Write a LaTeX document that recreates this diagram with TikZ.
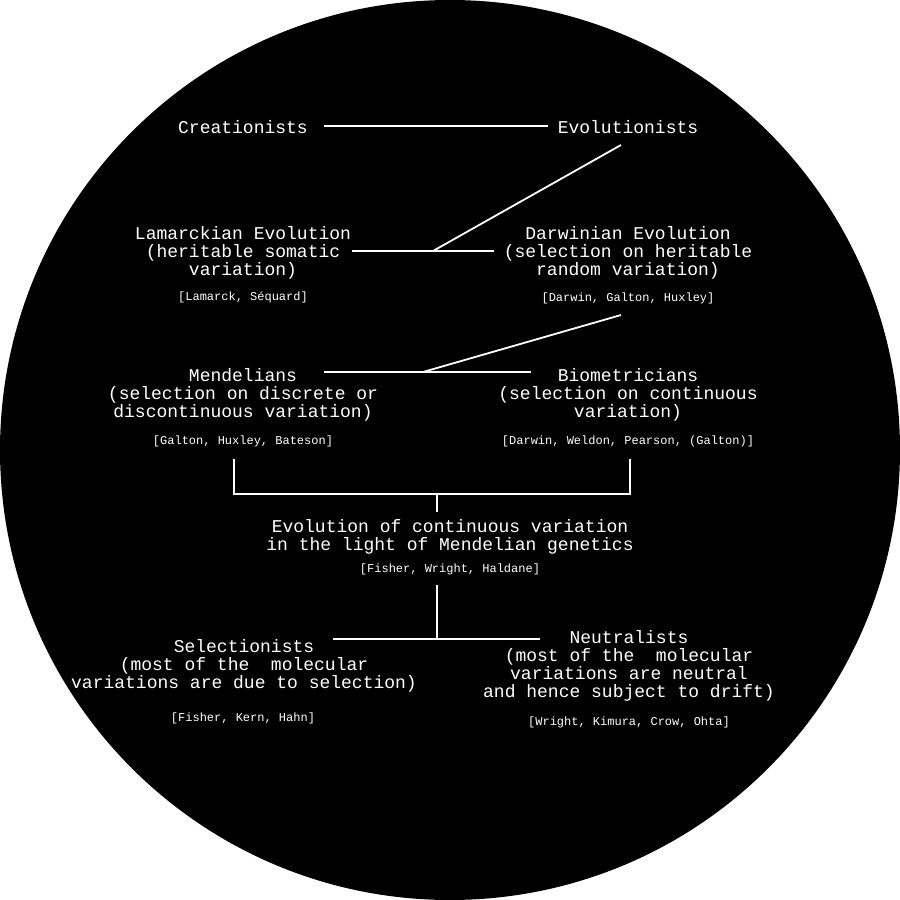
\documentclass[tikz,border=0pt]{standalone}
\usepackage{fontspec}
\newfontfamily\lmono{Liberation Mono}
\newcommand\blk[1]{\vtop{\lineskiplimit=-100pt \lineskip=0pt \halign{\hfil##\hfil\cr#1\crcr}}}
\begin{document}
\begin{tikzpicture}[x=1pt,y=-1pt,
  big/.style={font=\lmono\fontsize{18}{18}\selectfont, text=white, inner sep=0pt, anchor=base},
  small/.style={font=\lmono\fontsize{12}{12}\selectfont, text=white, inner sep=0pt, anchor=base},
  link/.style={draw=white, line width=1.8pt}]
\useasboundingbox (0,0) rectangle (900,900);
\fill[white] (0,0) rectangle (900,900);
\fill[black] (450,450) circle (450);

\node[big] (creat) at (243,133) {Creationists};
\node[big] (evol) at (628,133) {Evolutionists};
\node[big] (lam) at (243,239) {\blk{Lamarckian Evolution\cr (heritable somatic\cr variation)}};
\node[small] (lamref) at (243,300) {[Lamarck, Séquard]};
\node[big] (dar) at (628,239) {\blk{Darwinian Evolution\cr (selection on heritable\cr random variation)}};
\node[small] (darref) at (628,301) {[Darwin, Galton, Huxley]};
\node[big] (mend) at (243,381) {\blk{Mendelians\cr (selection on discrete or\cr discontinuous variation)}};
\node[small] (mendref) at (243,444) {[Galton, Huxley, Bateson]};
\node[big] (bio) at (628,381) {\blk{Biometricians\cr (selection on continuous\cr variation)}};
\node[small] (bioref) at (628,444) {[Darwin, Weldon, Pearson, (Galton)]};
\node[big] (syn) at (450,532) {\blk{Evolution of continuous variation\cr in the light of Mendelian genetics}};
\node[small] (synref) at (450,572) {[Fisher, Wright, Haldane]};
\node[big] (sel) at (244,652) {\blk{Selectionists\cr (most of the~~molecular\cr variations are due to selection)}};
\node[small] (selref) at (243,721) {[Fisher, Kern, Hahn]};
\node[big] (neu) at (629,643) {\blk{Neutralists\cr (most of the~~molecular\cr variations are neutral\cr and hence subject to drift)}};
\node[small] (neuref) at (629,725) {[Wright, Kimura, Crow, Ohta]};

\coordinate (a1) at (324,126); \coordinate (a2) at (548,126);
\coordinate (b1) at (621,145); \coordinate (b2) at (433,251);
\coordinate (b3) at (352,251); \coordinate (b4) at (494,251);
\coordinate (c1) at (621,315); \coordinate (c2) at (423,372);
\coordinate (c3) at (324,372); \coordinate (c4) at (531,372);
\coordinate (d1) at (234,459); \coordinate (d2) at (234,494);
\coordinate (d3) at (630,494); \coordinate (d4) at (630,459);
\coordinate (d5) at (437,494); \coordinate (d6) at (437,512);
\coordinate (e1) at (437,585); \coordinate (e2) at (437,639);
\coordinate (e3) at (333,639); \coordinate (e4) at (540,639);

\draw[link] (a1) -- (a2);
\draw[link] (b1) -- (b2);
\draw[link] (b3) -- (b4);
\draw[link] (c1) -- (c2);
\draw[link] (c3) -- (c4);
\draw[link] (d1) -- (d2) -- (d3) -- (d4);
\draw[link] (d5) -- (d6);
\draw[link] (e1) -- (e2);
\draw[link] (e3) -- (e4);
\end{tikzpicture}
\end{document}
